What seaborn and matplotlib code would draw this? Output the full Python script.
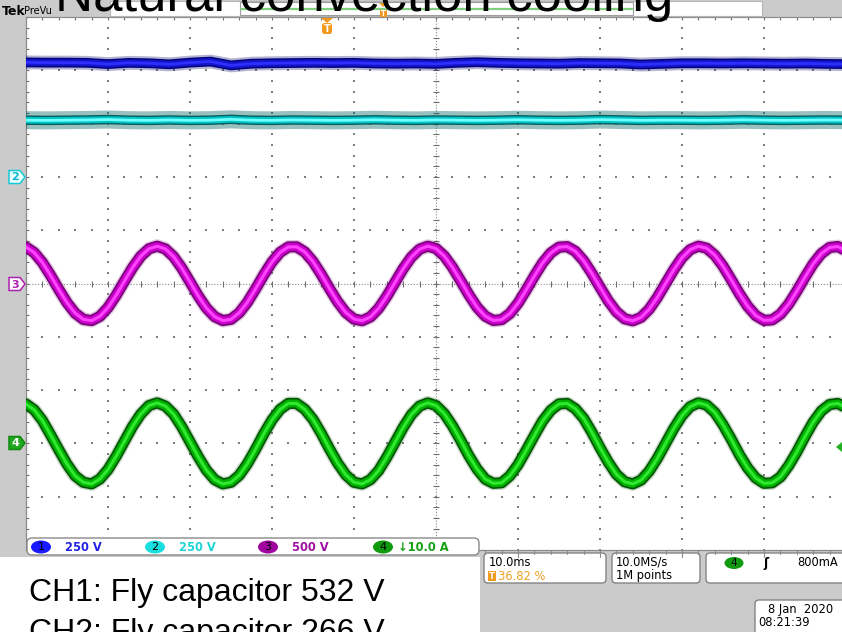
import matplotlib
matplotlib.use("Agg")
import matplotlib.pyplot as plt
from matplotlib.patches import FancyBboxPatch, Rectangle, Polygon, Ellipse
import pandas as pd
import seaborn as sns

sns.set_theme(style="white")
plt.rcParams["font.family"] = ["DejaVu Sans"]

W, H = 842, 632

# ---- acquisition: 10 ms/div, 10 horizontal divisions ----
t_fast = list(range(0, 101))                 # ms, ch3 / ch4 samples
t_slow = [i * 2.5 for i in range(41)]        # ms, ch1 / ch2 samples

ch1_volts = [537, 536, 536, 535, 529, 535, 533, 528, 536, 541,
             523, 531, 533, 534, 535, 534, 535, 532, 531, 532,
             530, 535, 538, 535, 533, 532, 531, 534, 533, 532,
             527, 530, 533, 533, 532, 533, 532, 531, 532, 530, 529]

ch2_volts = [266, 265, 266, 267, 269, 266, 265, 267, 265, 266,
             270, 266, 265, 267, 266, 265, 266, 268, 266, 265,
             267, 266, 265, 266, 268, 266, 265, 266, 269, 267,
             265, 266, 266, 265, 266, 268, 266, 265, 266, 267, 266]

ch3_volts = [342, 290, 197, 76, -56, -180, -279, -337, -348, -309,
             -226, -110, 21, 149, 256, 326, 350, 324, 252, 144,
             15, -116, -230, -311, -348, -336, -275, -176, -51, 81,
             202, 293, 343, 344, 296, 206, 86, -46, -171, -272,
             -334, -349, -314, -234, -120, 10, 139, 248, 322, 350,
             328, 259, 153, 26, -105, -222, -306, -347, -339, -282,
             -185, -61, 71, 193, 287, 341, 346, 302, 214, 96,
             -35, -162, -265, -331, -350, -318, -241, -130, 0, 129,
             241, 318, 350, 331, 266, 163, 36, -95, -213, -301,
             -346, -341, -288, -194, -72, 60, 184, 281, 338, 347, 307]

ch4_amps = [7.4, 6.3, 4.3, 1.6, -1.2, -3.9, -6.1, -7.3, -7.6, -6.7,
            -4.9, -2.4, 0.4, 3.2, 5.5, 7.1, 7.6, 7.0, 5.5, 3.1,
            0.3, -2.5, -5.0, -6.8, -7.6, -7.3, -6.0, -3.8, -1.1, 1.8,
            4.4, 6.4, 7.5, 7.5, 6.4, 4.5, 1.9, -1.0, -3.7, -5.9,
            -7.3, -7.6, -6.8, -5.1, -2.6, 0.2, 3.0, 5.4, 7.0, 7.6,
            7.1, 5.6, 3.3, 0.6, -2.3, -4.8, -6.7, -7.5, -7.4, -6.1,
            -4.0, -1.3, 1.5, 4.2, 6.2, 7.4, 7.5, 6.5, 4.7, 2.1,
            -0.8, -3.5, -5.8, -7.2, -7.6, -6.9, -5.2, -2.8, 0.0, 2.8,
            5.2, 6.9, 7.6, 7.2, 5.8, 3.5, 0.8, -2.1, -4.6, -6.5,
            -7.5, -7.4, -6.3, -4.2, -1.6, 1.3, 4.0, 6.1, 7.3, 7.5, 6.7]

channels = ["1", "2", "3", "4"]
channel_scale = {"1": 250.0, "2": 250.0, "3": 500.0, "4": 10.0}   # units / div
channel_position = {"1": 2.0, "2": 2.0, "3": 0.0, "4": -3.0}      # div
scale_labels = {"1": "250 V", "2": "250 V", "3": "500 V", "4": "\u219310.0 A"}

# persistence look: haze, dark fringe, body, bright core
trace_colors = {
    "1": ("#000070", "#000078", "#1414c8", "#2e2eff"),
    "2": ("#006060", "#005e5e", "#00c4c4", "#70ffff"),
    "3": ("#800080", "#760076", "#cc00cc", "#ff44ff"),
    "4": ("#005500", "#005300", "#00b000", "#30e830"),
}
trace_widths = {
    "1": (10.0, 7.0, 5.0, 2.0),
    "2": (13.0, 6.8, 4.8, 2.0),
    "3": (10.0, 8.0, 5.6, 2.2),
    "4": (10.0, 8.0, 5.6, 2.2),
}
haze_alpha = {"1": 0.3, "2": 0.4, "3": 0.22, "4": 0.22}
badge_colors = {"1": "#1a1aff", "2": "#19dede", "3": "#a0069e", "4": "#109a10"}
label_colors = {"1": "#2323e6", "2": "#1fd6d6", "3": "#a010a0", "4": "#16a016"}

frames = []
for ch, tt, vals in [("1", t_slow, ch1_volts), ("2", t_slow, ch2_volts),
                     ("3", t_fast, ch3_volts), ("4", t_fast, ch4_amps)]:
    df = pd.DataFrame({"t": tt, "value": vals})
    df["channel"] = ch
    df["div"] = df["value"] / channel_scale[ch] + channel_position[ch]
    frames.append(df)
traces = pd.concat(frames, ignore_index=True)


def fig_rect(x0, y0, x1, y1):
    return [x0 / W, 1 - y1 / H, (x1 - x0) / W, (y1 - y0) / H]


fig = plt.figure(figsize=(W / 100, H / 100), dpi=100)
fig.patch.set_facecolor("#cbcbcb")

# ---- graticule ----
ax = fig.add_axes(fig_rect(26, 17, 846, 550))
ax.set_facecolor("white")
ax.set_xlim(0, 100)
ax.set_ylim(-5, 5)
ax.set_xticks([])
ax.set_yticks([])
for s in ax.spines.values():
    s.set_color("#8c8c8c")
    s.set_linewidth(0.9)

grid_c = "#808080"
dots_x, dots_y = [], []
for gx in range(10, 100, 10):
    if gx == 50:
        continue
    for k in range(0, 51):
        dots_x.append(gx)
        dots_y.append(-5 + k * 0.2)
for gy in range(-4, 5):
    if gy == 0:
        continue
    for k in range(0, 51):
        dots_x.append(k * 2.0)
        dots_y.append(gy)
ax.scatter(dots_x, dots_y, s=1.2, marker="s", color=grid_c, linewidths=0, zorder=1)

ax.axhline(0, color="#8a8a8a", lw=0.8, ls=(0, (1, 1.6)), zorder=1)
ax.axvline(50, color="#8a8a8a", lw=0.8, ls=(0, (1, 1.6)), zorder=1)
minor_t = [k * 2.0 for k in range(51)]
minor_d = [-5 + k * 0.2 for k in range(51)]
ax.plot(minor_t, [0] * len(minor_t), ls="none", marker="|", ms=4.5, mew=0.8, color="#6e6e6e", zorder=1)
ax.plot([50] * len(minor_d), minor_d, ls="none", marker="_", ms=4.5, mew=0.8, color="#6e6e6e", zorder=1)
ax.plot(minor_t, [5] * len(minor_t), ls="none", marker="|", ms=5, mew=0.8, color="#6e6e6e", zorder=1)
ax.plot([0] * len(minor_d), minor_d, ls="none", marker="_", ms=5, mew=0.8, color="#6e6e6e", zorder=1)

for ch in channels:
    sub = traces[traces["channel"] == ch]
    for i, (col, lw) in enumerate(zip(trace_colors[ch], trace_widths[ch])):
        sns.lineplot(data=sub, x="t", y="div", ax=ax, color=col, lw=lw,
                     alpha=haze_alpha[ch] if i == 0 else 1.0,
                     estimator=None, sort=False, legend=False, zorder=3)
ax.set_xlabel("")
ax.set_ylabel("")

# ---- overlay: screen furniture in pixel units ----
ov = fig.add_axes([0, 0, 1, 1])
ov.set_xlim(0, W)
ov.set_ylim(H, 0)
ov.axis("off")
ov.patch.set_alpha(0)
ov.set_zorder(5)

# top status bar with record view
ov.add_patch(Rectangle((110, 1), 652, 15, facecolor="white", edgecolor="#b5b5b5", lw=0.8))
ov.add_patch(Rectangle((240, 2), 393, 13, facecolor="white", edgecolor="#9e9e9e", lw=0.8))
ov.plot([241, 632], [9, 9], color="#7fcf7f", lw=1.6)
ov.add_patch(Polygon([(379, 3), (387, 3), (383, 7)], closed=True, facecolor="#f29a1d", edgecolor="none"))
ov.add_patch(Rectangle((379.5, 7.5), 7, 9, facecolor="#f29a1d", edgecolor="none"))
ov.plot([381, 385], [9.5, 9.5], color="white", lw=0.9)
ov.plot([383, 383], [9.5, 15], color="white", lw=0.9)
ov.text(2, 15, "Tek", fontsize=9, fontweight="bold", color="black", va="baseline")
ov.text(24, 14.5, "PreVu", fontsize=7, color="black", va="baseline")

ov.text(55, 11, "Natural convection cooling", fontsize=38, color="black",
        family=["Liberation Sans", "DejaVu Sans"], va="baseline", ha="left")

# trigger position marker
ov.add_patch(Polygon([(321, 18), (333, 18), (327, 23)], closed=True, facecolor="#f29a1d", edgecolor="none"))
ov.add_patch(FancyBboxPatch((322, 23), 10, 11, boxstyle="round,pad=0,rounding_size=2.5",
                            facecolor="#f29a1d", edgecolor="none"))
ov.text(327, 28.5, "T", ha="center", va="center", fontsize=7, color="white", fontweight="bold")

# channel ground markers on the left
def ch_marker(y, num, edge, face, txt):
    pts = [(9, y - 6.5), (20, y - 6.5), (25, y), (20, y + 6.5), (9, y + 6.5)]
    ov.add_patch(Polygon(pts, closed=True, facecolor=face, edgecolor=edge, lw=1.1))
    ov.text(15, y + 0.5, num, ha="center", va="center", fontsize=8, color=txt, fontweight="bold")

ch_marker(177, "2", "#19c8d8", "#e8ffff", "#10b8d0")
ch_marker(284, "3", "#b020b0", "white", "#b020b0")
ch_marker(443, "4", "#108a10", "#20a820", "white")

# trigger level arrow (ch4)
ov.add_patch(Polygon([(836, 447), (842, 442), (842, 452)], closed=True, facecolor="#20b020", edgecolor="none"))

# channel readout bar
ov.add_patch(FancyBboxPatch((27, 538), 452, 17, boxstyle="round,pad=0,rounding_size=5",
                            facecolor="white", edgecolor="#8a8a8a", lw=1.0))
badge_x = {"1": 41, "2": 155, "3": 268, "4": 383}
for ch in channels:
    bx = badge_x[ch]
    ov.add_patch(Ellipse((bx, 547), 20, 13, facecolor=badge_colors[ch], edgecolor="none"))
    ov.text(bx, 547.5, ch, ha="center", va="center", fontsize=8, color="black")
    ov.text(bx + 24 if ch != "4" else bx + 15, 547.5, scale_labels[ch], ha="left", va="center",
            fontsize=8.3, color=label_colors[ch], fontweight="bold")

# bottom tick row below graticule on the right
for k in range(0, 30):
    xk = 436 + k * 16.4
    if xk > 480:
        ov.plot([xk, xk], [550, 554 if k % 5 else 557], color="#8a8a8a", lw=0.8)

# slide caption region
ov.add_patch(Rectangle((0, 557), 480, 80, facecolor="white", edgecolor="none"))
cap_font = ["Liberation Sans", "DejaVu Sans"]
ov.text(29, 601, "CH1: Fly capacitor 532 V", fontsize=23, family=cap_font, color="black", va="baseline")
ov.text(29, 641, "CH2: Fly capacitor 266 V", fontsize=23, family=cap_font, color="black", va="baseline")

# acquisition readouts
def box(x0, y0, x1, y1):
    ov.add_patch(FancyBboxPatch((x0, y0), x1 - x0, y1 - y0, boxstyle="round,pad=0,rounding_size=4",
                                facecolor="white", edgecolor="#7a7a7a", lw=0.9))

box(484, 553, 606, 583)
box(612, 553, 700, 583)
box(706, 553, 850, 583)
box(755, 600, 850, 640)
rfs = 8.3
ov.text(489, 562, "10.0ms", fontsize=rfs, va="center", color="black")
ov.add_patch(Rectangle((488, 571), 8, 10, facecolor="#f29a1d", edgecolor="none"))
ov.text(492, 576.5, "T", ha="center", va="center", fontsize=6, color="white", fontweight="bold")
ov.text(498, 576, "36.82 %", fontsize=rfs, va="center", color="#f0a020")
ov.text(616, 562, "10.0MS/s", fontsize=rfs, va="center", color="black")
ov.text(616, 576, "1M points", fontsize=rfs, va="center", color="black")
ov.add_patch(Ellipse((734, 563), 19, 12, facecolor="#109a10", edgecolor="none"))
ov.text(734, 563.5, "4", ha="center", va="center", fontsize=7.5, color="black")
ov.text(766, 563, "\u0283", ha="center", va="center", fontsize=9, color="black", fontweight="bold")
ov.text(797, 563, "800mA", fontsize=rfs, va="center", color="black")
ov.text(768, 610, "8 Jan  2020", fontsize=rfs, va="center", color="black")
ov.text(758, 623, "08:21:39", fontsize=rfs, va="center", color="black")

fig.savefig("out.png", dpi=100, facecolor=fig.get_facecolor())
